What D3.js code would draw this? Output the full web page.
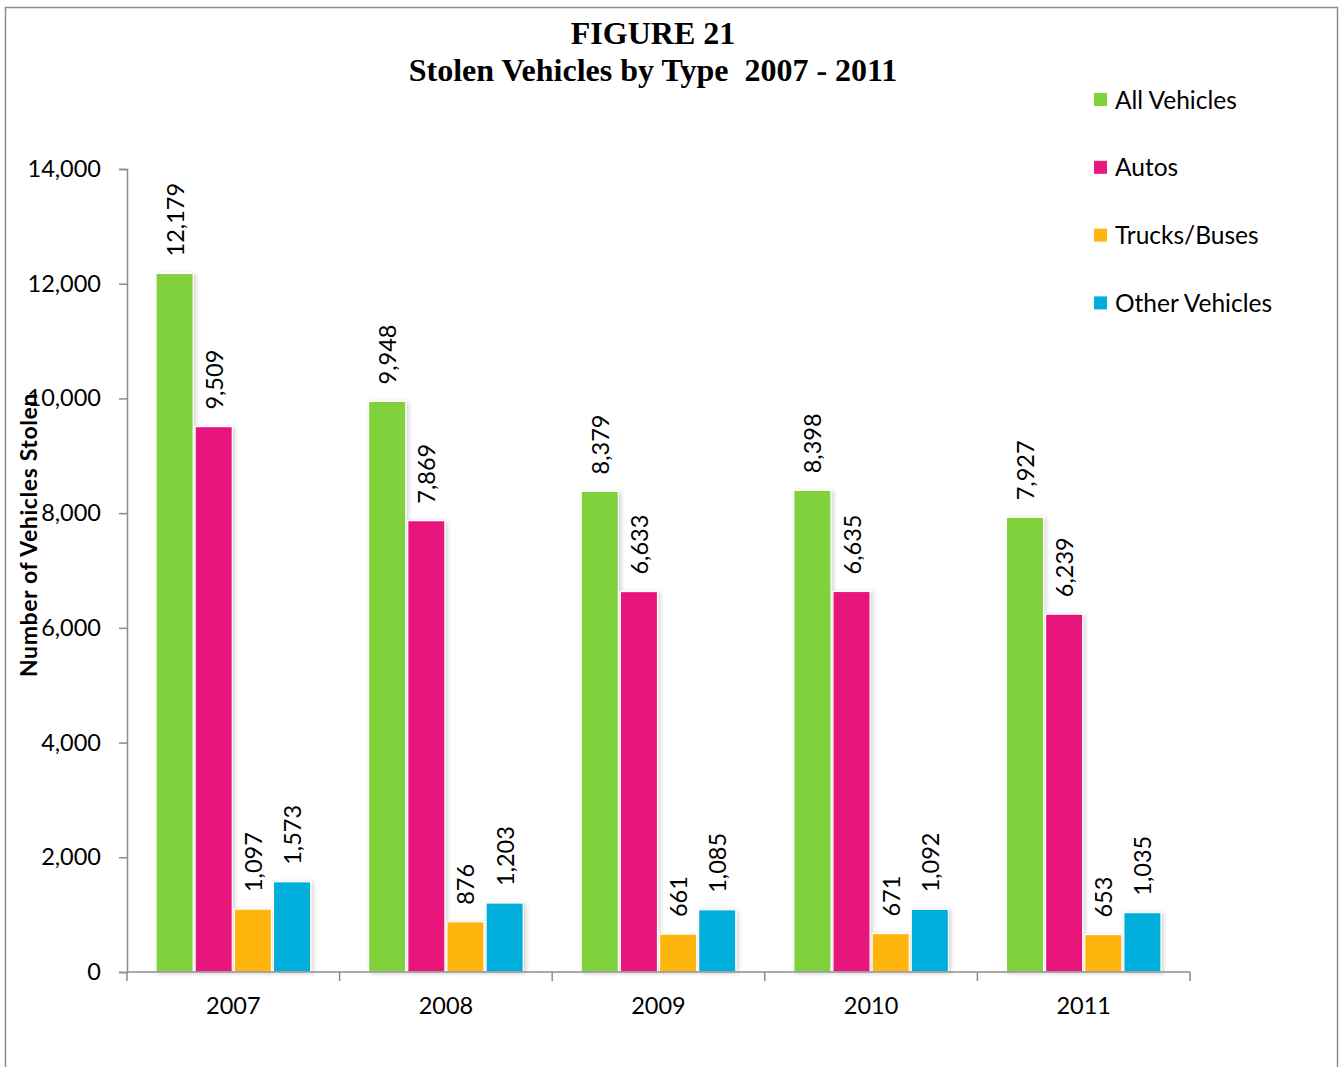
<!DOCTYPE html>
<html><head><meta charset="utf-8">
<script src="https://cdn.jsdelivr.net/npm/d3@7"></script>
<style>body{margin:0;background:#fff}svg{display:block}</style>
</head><body>
<script>
const years = ["2007","2008","2009","2010","2011"];
const seriesNames = ["All Vehicles","Autos","Trucks/Buses","Other Vehicles"];
const allVehicles = [12179, 9948, 8379, 8398, 7927];
const autos = [9509, 7869, 6633, 6635, 6239];
const trucksBuses = [1097, 876, 661, 671, 653];
const otherVehicles = [1573, 1203, 1085, 1092, 1035];
const yTicks = [0,2000,4000,6000,8000,10000,12000,14000];
const colors = ["#80d13b","#e8187c","#ffb50f","#00aedc"];
const seriesValues = [allVehicles, autos, trucksBuses, otherVehicles];

const W=1339,H=1067;
const svg=d3.select("body").append("svg").attr("width",W).attr("height",H);
const defs=svg.append("defs");
const f=defs.append("filter").attr("id","sh").attr("x","-20%").attr("y","-5%").attr("width","150%").attr("height","115%");
f.append("feDropShadow").attr("dx",2).attr("dy",1).attr("stdDeviation",2).attr("flood-color","#000").attr("flood-opacity",0.18);

svg.append("rect").attr("x",5.5).attr("y",7.5).attr("width",1332).attr("height",1070).attr("fill","none").attr("stroke","#8c8c8c").attr("stroke-width",1.5);

const font="Lato, 'Open Sans', sans-serif";
svg.append("text").attr("x",653).attr("y",44).attr("text-anchor","middle").attr("font-family","'Liberation Serif', serif").attr("font-weight","bold").attr("font-size",32).text("FIGURE 21");
svg.append("text").attr("x",653).attr("y",81).attr("text-anchor","middle").attr("font-family","'Liberation Serif', serif").attr("font-weight","bold").attr("font-size",32).style("white-space","pre").text("Stolen Vehicles by Type  2007 - 2011");

const x0=d3.scaleBand().domain(years).range([127,1190]).paddingInner(0).paddingOuter(0);
const x1=d3.scaleBand().domain(seriesNames).range([28,x0.bandwidth()-28]).padding(0);
const y=d3.scaleLinear().domain([0,14000]).range([972,169]);

// y axis
const ya=svg.append("g").attr("transform","translate(127,0)").call(d3.axisLeft(y).tickValues(yTicks).tickFormat(d3.format(",")).tickSize(8).tickPadding(18));
ya.select(".domain").attr("stroke","#8c8c8c").attr("stroke-width",1.5);
ya.selectAll(".tick line").attr("stroke","#8c8c8c").attr("stroke-width",1.5);
ya.selectAll("text").attr("font-family",font).attr("font-size",23.5).attr("fill","#000");

// bars
const g=svg.append("g");
years.forEach((yr,i)=>{
  seriesNames.forEach((s,j)=>{
    const v=seriesValues[j][i];
    const bx=x0(yr)+x1(s);
    g.append("rect").attr("x",bx+1).attr("y",y(v)).attr("width",x1.bandwidth()-2).attr("height",972-y(v))
      .attr("fill",colors[j]).attr("stroke","#fff").attr("stroke-width",1.2).attr("filter","url(#sh)");
    const cx=bx+x1.bandwidth()/2;
    g.append("text").attr("transform",`translate(${cx+9},${y(v)-17}) rotate(-90)`).attr("font-family",font).attr("font-size",23.5).attr("fill","#000").text(d3.format(",")(v));
  });
});

// x axis
const xa=svg.append("g").attr("transform","translate(0,972)").call(d3.axisBottom(x0).tickSize(0).tickPadding(25));
xa.select(".domain").attr("stroke","#8c8c8c").attr("stroke-width",1.5).attr("d","M127,0H1190");
xa.selectAll("text").attr("font-family",font).attr("font-size",23.5).attr("fill","#000");
const bounds=years.map(d=>x0(d)).concat([x0(years[years.length-1])+x0.bandwidth()]);
svg.append("g").selectAll("line").data(bounds).join("line").attr("x1",d=>d).attr("x2",d=>d).attr("y1",972).attr("y2",981).attr("stroke","#8c8c8c").attr("stroke-width",1.5);

// y title
svg.append("text").attr("transform","translate(37,535) rotate(-90)").attr("text-anchor","middle").attr("font-family",font).attr("font-weight","bold").attr("font-size",23).attr("letter-spacing",0.6).text("Number of Vehicles Stolen");

// legend
const lg=svg.append("g");
seriesNames.forEach((s,j)=>{
  const cy=100+j*67.8;
  lg.append("rect").attr("x",1094).attr("y",cy-7).attr("width",13).attr("height",13).attr("fill",colors[j]);
  lg.append("text").attr("x",1115).attr("y",cy+8.5).attr("font-family",font).attr("font-size",24.5).text(s);
});
</script>
</body></html>
